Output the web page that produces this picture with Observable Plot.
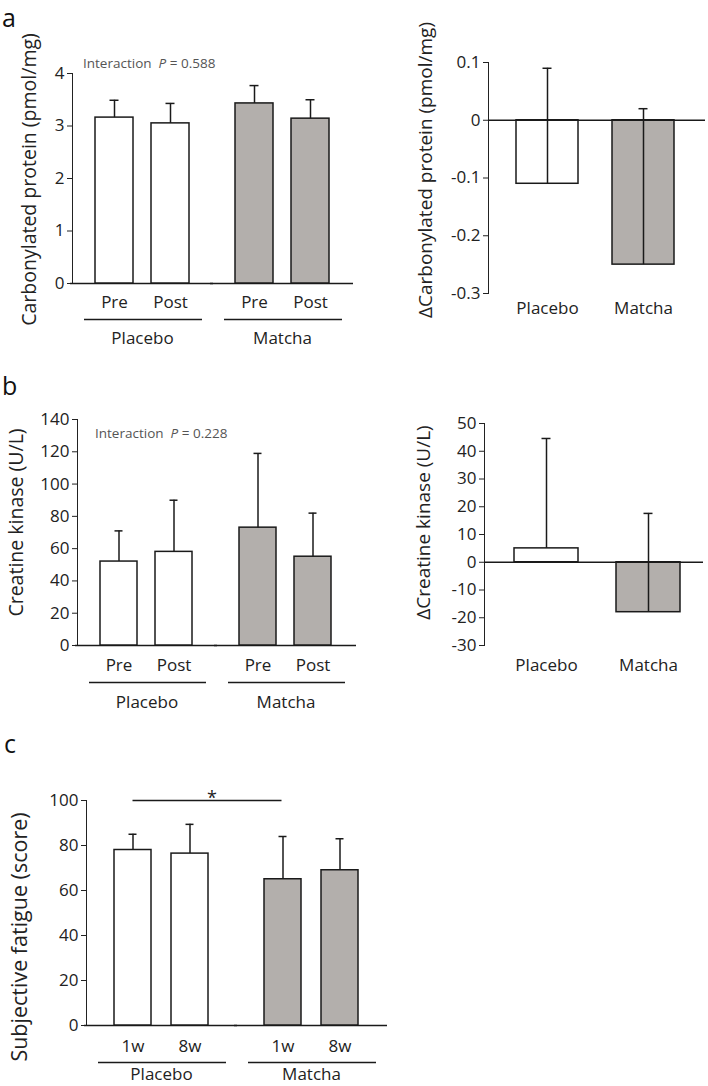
<!DOCTYPE html>
<html><head><meta charset="utf-8">
<script src="https://cdn.jsdelivr.net/npm/d3@7"></script>
<script src="https://cdn.jsdelivr.net/npm/@observablehq/plot@0.6"></script>
<style>
body{margin:0;background:#fff;}
#root{position:relative;width:708px;height:1086px;font-family:"Open Sans",sans-serif;color:#222;overflow:hidden;background:#fff}
.p{position:absolute}
.letter{position:absolute;font-size:25px;line-height:normal;color:#111}
.inter{position:absolute;font-size:13.5px;line-height:1;color:#555;white-space:nowrap}
</style></head><body><div id="root"></div>
<script>
// ---- data ----
const groups = ["Placebo", "Matcha"];
const timesAB = ["Pre", "Post"];
const timesC = ["1w", "8w"];
const groupFill = ["#ffffff", "#b3afac"];

const carbMean = [3.16, 3.05, 3.43, 3.14];
const carbSD = [0.33, 0.38, 0.34, 0.36];
const dCarbMean = [-0.11, -0.25];
const dCarbSD = [0.20, 0.27];

const ckMean = [52, 58, 73, 55];
const ckSD = [19, 32, 46, 27];
const dCkMean = [5, -18];
const dCkSD = [39.6, 35.6];

const fatigueMean = [78, 76.4, 65, 69];
const fatigueSD = [7, 13, 19, 14];

const ticksCarb = [0, 1, 2, 3, 4];
const ticksDCarb = [-0.3, -0.2, -0.1, 0, 0.1];
const ticksCk = [0, 20, 40, 60, 80, 100, 120, 140];
const ticksDCk = [-30, -20, -10, 0, 10, 20, 30, 40, 50];
const ticksFat = [0, 20, 40, 60, 80, 100];

const labels = {
  carb: "Carbonylated protein (pmol/mg)",
  dCarb: "ΔCarbonylated protein (pmol/mg)",
  ck: "Creatine kinase (U/L)",
  dCk: "ΔCreatine kinase (U/L)",
  fat: "Subjective fatigue (score)"
};
const sigMark = "*";

const root = document.getElementById("root");
const INK = "#1a1a1a";
const STYLE = {fontFamily: "Open Sans, sans-serif", fontSize: "17px", color: "#222", background: "transparent", overflow: "visible"};

function place(svg, left, top) {
  svg.classList.add("p");
  svg.style.left = left + "px";
  svg.style.top = top + "px";
  root.appendChild(svg);
}

function yScale(ticks) {
  return {domain: [ticks[0], ticks[ticks.length - 1]], ticks, tickSize: 5, tickPadding: 3, line: true, label: null, tickFormat: d => String(d)};
}

function grouped(o) {
  const rows = [];
  groups.forEach((g, i) => o.times.forEach((t, j) => rows.push({group: g, time: t, mean: o.means[i * 2 + j], sd: o.sds[i * 2 + j]})));
  const yMax = o.ticks[o.ticks.length - 1];
  const marks = [
    Plot.ruleY([o.ticks[0]], {stroke: INK, strokeWidth: 1.3, insetLeft: -2, insetRight: -1}),
    Plot.ruleY([o.ticks[0]], {stroke: INK, strokeWidth: 1.5, dy: o.underDy, insetLeft: 12, insetRight: 10}),
    Plot.barY(rows, {fx: "group", x: "time", y: "mean", fill: "group", stroke: INK, strokeWidth: 1.5}),
    Plot.ruleX(rows, {fx: "group", x: "time", y1: "mean", y2: d => d.mean + d.sd, stroke: INK, strokeWidth: 1.5}),
    Plot.tickY(rows, {fx: "group", x: "time", y: d => d.mean + d.sd, stroke: INK, strokeWidth: 1.5, insetLeft: 14.5, insetRight: 14.5}),
    Plot.axisX({tickSize: 0, tickPadding: o.xPad, label: null}),
    Plot.axisFx({anchor: "bottom", tickSize: 0, tickPadding: o.fxPad, label: null}),
    Plot.text([{group: groups[0], t: o.label}], {fx: "group", text: "t", frameAnchor: "left", textAnchor: "middle", rotate: -90, dx: o.labDx, dy: o.labDy, fontSize: o.labSize})
  ];
  if (o.extra) marks.push(...o.extra(yMax));
  return Plot.plot({
    width: o.width, height: o.height,
    marginTop: o.mt, marginBottom: o.mb, marginLeft: o.ml, marginRight: o.mr,
    style: STYLE,
    fx: {domain: groups, paddingInner: 0, paddingOuter: o.fxPo},
    x: {domain: o.times, paddingInner: o.xPi, paddingOuter: o.xPo},
    y: yScale(o.ticks),
    color: {domain: groups, range: groupFill},
    marks
  });
}

function delta(o) {
  const rows = groups.map((g, i) => ({group: g, mean: o.means[i], sd: o.sds[i]}));
  return Plot.plot({
    width: o.width, height: o.height,
    marginTop: o.mt, marginBottom: o.mb, marginLeft: o.ml, marginRight: o.mr,
    style: STYLE,
    x: {domain: groups, paddingInner: o.xPi, paddingOuter: o.xPo, align: o.align},
    y: yScale(o.ticks),
    color: {domain: groups, range: groupFill},
    marks: [
      Plot.barY(rows, {x: "group", y: "mean", fill: "group", stroke: INK, strokeWidth: 1.5}),
      Plot.ruleX(rows, {x: "group", y1: "mean", y2: d => d.mean + d.sd, stroke: INK, strokeWidth: 1.5}),
      Plot.tickY(rows, {x: "group", y: d => d.mean + d.sd, stroke: INK, strokeWidth: 1.5, insetLeft: o.capInset, insetRight: o.capInset}),
      Plot.ruleY([0], {stroke: INK, strokeWidth: 1.3}),
      Plot.axisX({tickSize: 0, tickPadding: o.xPad, label: null}),
      Plot.text([o.label], {frameAnchor: "left", textAnchor: "middle", rotate: -90, dx: o.labDx, dy: o.labDy, fontSize: o.labSize})
    ]
  });
}

// Panel a
place(grouped({means: carbMean, sds: carbSD, times: timesAB, ticks: ticksCarb, label: labels.carb,
  width: 360, height: 350, mt: 73, mb: 67, ml: 71, mr: 7, fxPo: 0.007, xPi: 0.32, xPo: 0.41,
  xPad: 12, fxPad: 48, underDy: 36, labDx: -43, labDy: 1, labSize: 19.5}), 0, 0);
place(delta({means: dCarbMean, sds: dCarbSD, ticks: ticksDCarb, label: labels.dCarb,
  width: 328, height: 330, mt: 62, mb: 37, ml: 108, mr: 3, xPi: 0.3575, xPo: 0.303, align: 0.47, capInset: 26.5,
  xPad: 8, labDx: -63, labDy: -8, labSize: 19}), 380, 0);

// Panel b
place(grouped({means: ckMean, sds: ckSD, times: timesAB, ticks: ticksCk, label: labels.ck,
  width: 360, height: 340, mt: 49, mb: 65, ml: 75, mr: 4, fxPo: 0.004, xPi: 0.32, xPo: 0.41,
  xPad: 13, fxPad: 50, underDy: 37, labDx: -61, labDy: -10, labSize: 19.5}), 0, 370);
place(delta({means: dCkMean, sds: dCkSD, ticks: ticksDCk, label: labels.dCk,
  width: 328, height: 340, mt: 53, mb: 65, ml: 104, mr: 5, xPi: 0.371, xPo: 0.254, align: 0.577, capInset: 27.5,
  xPad: 13, labDx: -61, labDy: -12, labSize: 19}), 380, 370);

// Panel c
place(grouped({means: fatigueMean, sds: fatigueSD, times: timesC, ticks: ticksFat, label: labels.fat,
  width: 400, height: 366, mt: 80, mb: 61, ml: 82, mr: 11, fxPo: 0.0166, xPi: 0.345, xPo: 0.474,
  xPad: 14, fxPad: 42, underDy: 37, labDx: -66.5, labDy: 24, labSize: 21.5,
  extra: (yMax) => [
    Plot.ruleY([{group: groups[0]}], {fx: "group", y: () => yMax, stroke: INK, strokeWidth: 1.5, insetLeft: 46.5}),
    Plot.ruleY([{group: groups[1]}], {fx: "group", y: () => yMax, stroke: INK, strokeWidth: 1.5, insetRight: 104.5}),
    Plot.text([{group: groups[0], t: sigMark}], {fx: "group", text: "t", frameAnchor: "top-left", textAnchor: "middle", dx: 125.5, dy: -9, fontSize: 18})
  ]}), 0, 720);

// letters & annotations
function html(cls, txt, left, top) {
  const d = document.createElement("div");
  d.className = cls; d.innerHTML = txt;
  d.style.left = left + "px"; d.style.top = top + "px";
  root.appendChild(d);
}
html("letter", "a", 2, 0);
html("letter", "b", 2, 368);
html("letter", "c", 4, 726);
html("inter", "Interaction&nbsp; <i>P</i> = 0.588", 83, 57);
html("inter", "Interaction&nbsp; <i>P</i> = 0.228", 95, 427);
</script></body></html>
